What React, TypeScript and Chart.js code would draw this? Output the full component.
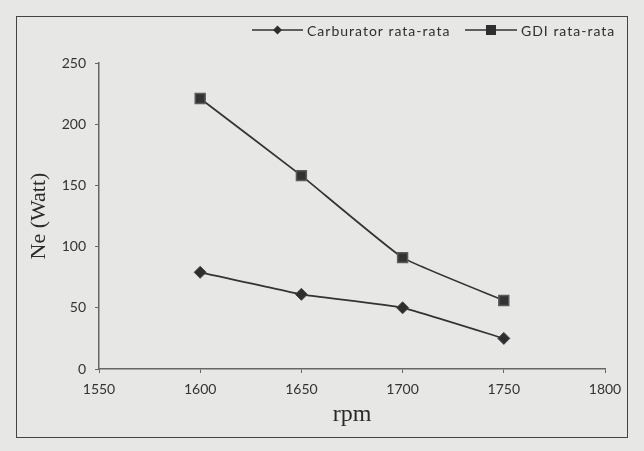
import React, { useEffect, useRef } from "react";
import { Chart, registerables } from "chart.js";

Chart.register(...registerables);

const rpm = [1600, 1650, 1700, 1750];
const carburatorValues = [79, 61, 50, 25];
const gdiValues = [221, 158, 91, 56];
const seriesNames = ["Carburator rata-rata", "GDI rata-rata"];
const xTicks = [1550, 1600, 1650, 1700, 1750, 1800];
const yTicks = [0, 50, 100, 150, 200, 250];

const INK = "#333333";

const legendPlugin = {
  id: "lineLegend",
  afterDraw(chart: any) {
    const ctx = chart.ctx;
    ctx.save();
    const y = 30;
    const items = [
      { x0: 252, x1: 303, tx: 307, name: seriesNames[0], style: "diamond" },
      { x0: 465, x1: 517, tx: 521, name: seriesNames[1], style: "square" },
    ];
    for (const it of items) {
      ctx.strokeStyle = INK;
      ctx.lineWidth = 1.6;
      ctx.beginPath();
      ctx.moveTo(it.x0, y);
      ctx.lineTo(it.x1, y);
      ctx.stroke();
      const cx = (it.x0 + it.x1) / 2;
      ctx.fillStyle = "#2e2e2e";
      if (it.style === "diamond") {
        ctx.beginPath();
        ctx.moveTo(cx, y - 4.5);
        ctx.lineTo(cx + 4.5, y);
        ctx.lineTo(cx, y + 4.5);
        ctx.lineTo(cx - 4.5, y);
        ctx.closePath();
        ctx.fill();
      } else {
        ctx.fillRect(cx - 5, y - 5, 10, 10);
      }
      ctx.fillStyle = "#2e2e2e";
      ctx.font = "14px Lato";
      (ctx as any).letterSpacing = "1px";
      ctx.textBaseline = "middle";
      ctx.textAlign = "left";
      ctx.fillText(it.name, it.tx, y + 1);
    }
    ctx.restore();
  },
};

export default function App() {
  const ref = useRef<HTMLCanvasElement | null>(null);

  useEffect(() => {
    if (!ref.current) return;
    const chart = new Chart(ref.current, {
      type: "line",
      data: {
        datasets: [
          {
            label: seriesNames[0],
            data: rpm.map((x, i) => ({ x, y: carburatorValues[i] })),
            borderColor: INK,
            backgroundColor: "#2e2e2e",
            borderWidth: 1.7,
            pointStyle: "rectRot",
            pointRadius: 6,
            pointBorderColor: "#444",
            pointBackgroundColor: "#2e2e2e",
            pointBorderWidth: 1,
            tension: 0.12,
          },
          {
            label: seriesNames[1],
            data: rpm.map((x, i) => ({ x, y: gdiValues[i] })),
            borderColor: INK,
            backgroundColor: "#333",
            borderWidth: 1.7,
            pointStyle: "rect",
            pointRadius: 7,
            pointBorderColor: "#5a5a5a",
            pointBackgroundColor: "#333",
            pointBorderWidth: 1.5,
            tension: 0.12,
          },
        ],
      },
      options: {
        animation: false,
        responsive: false,
        maintainAspectRatio: false,
        layout: { padding: { left: 20, top: 63, right: 39, bottom: 10 } },
        plugins: {
          legend: { display: false },
          tooltip: { enabled: false },
        },
        scales: {
          x: {
            type: "linear",
            min: xTicks[0],
            max: xTicks[xTicks.length - 1],
            afterBuildTicks: (s: any) => {
              s.ticks = xTicks.map((v) => ({ value: v }));
            },
            afterFit: (s: any) => {
              s.height = 72;
            },
            grid: {
              drawOnChartArea: false,
              drawTicks: true,
              tickLength: 4,
              color: "#666",
            },
            border: { display: true, color: "#666", width: 1.5 },
            ticks: {
              color: "#333",
              font: { family: "Lato", size: 14 },
              padding: 8,
              maxRotation: 0,
              callback: (v: any) => String(v),
            },
            title: {
              display: true,
              text: "rpm",
              color: "#2a2a2a",
              font: { family: "'Liberation Serif', serif", size: 24 },
              padding: { top: 0, bottom: 12 },
            },
          },
          y: {
            type: "linear",
            min: yTicks[0],
            max: yTicks[yTicks.length - 1],
            afterBuildTicks: (s: any) => {
              s.ticks = yTicks.map((v) => ({ value: v }));
            },
            afterFit: (s: any) => {
              s.width = 79;
            },
            grid: {
              drawOnChartArea: false,
              drawTicks: true,
              tickLength: 4,
              color: "#666",
            },
            border: { display: true, color: "#666", width: 1.5 },
            ticks: {
              color: "#333",
              font: { family: "Lato", size: 14 },
              padding: 9,
            },
            title: {
              display: true,
              text: "Ne (Watt)",
              color: "#2a2a2a",
              font: { family: "'Liberation Serif', serif", size: 22 },
              padding: { top: 6, bottom: 0 },
            },
          },
        },
      },
      plugins: [legendPlugin],
    });
    return () => chart.destroy();
  }, []);

  return (
    <div
      style={{
        position: "fixed",
        left: 0,
        top: 0,
        width: 644,
        height: 451,
        background: "#e7e7e5",
      }}
    >
      <div
        style={{
          position: "absolute",
          left: 16,
          top: 16,
          width: 610,
          height: 420,
          border: "1.5px solid #444",
        }}
      />
      <canvas
        ref={ref}
        width={644}
        height={451}
        style={{ position: "absolute", left: 0, top: 0, width: 644, height: 451 }}
      />
    </div>
  );
}
